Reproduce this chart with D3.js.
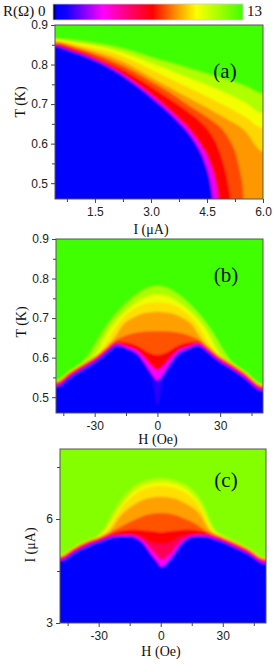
<!DOCTYPE html>
<html>
<head>
<meta charset="utf-8">
<title>R(I,T,H) colour maps</title>
<script src="https://d3js.org/d3.v7.min.js"></script>
<style>
  body { margin: 0; background: #fff; }
  .serif { font-family: "Liberation Serif", "Times New Roman", serif; fill: #111; }
</style>
</head>
<body>
<svg id="chart" width="278" height="664"></svg>
<script>
// colour scale: resistance (ohm) -> colour
var cmapR = [0, 0.25, 0.9, 3.4, 5.0, 6.8, 8.3, 9.8, 11.3, 13];
var cmapColors = ["#000000", "#0000ff", "#1000ff", "#ff00ff", "#ff0080", "#ff0000", "#ff8800", "#ffff00", "#a8ff00", "#40ff00"];

// (a) T vs I. Boundaries between colour bands, [I (uA), T (K)], lowest band first
var aBandR = [0.45, 3.2, 6.8, 7.6, 8.5, 9.3, 10.0, 11.2];
var aTopR = 13;
var aBounds = [
  [[0.43,.847],[0.83,.835],[1.28,.820],[1.74,.800],[2.20,.775],[2.64,.745],[3.04,.715],[3.41,.685],[3.74,.655],[4.02,.625],[4.23,.595],[4.39,.565],[4.50,.535],[4.58,.505],[4.63,.475],[4.65,.46]],
  [[0.43,.849],[0.83,.837],[1.28,.822],[1.76,.802],[2.23,.777],[2.68,.747],[3.09,.717],[3.47,.687],[3.81,.657],[4.10,.627],[4.33,.597],[4.51,.567],[4.63,.537],[4.72,.507],[4.78,.477],[4.80,.46]],
  [[0.43,.853],[1.0,.838],[1.5,.820],[2.0,.798],[2.5,.773],[2.97,.746],[3.5,.713],[4.0,.680],[4.3,.657],[4.53,.634],[4.75,.600],[4.92,.555],[5.04,.51],[5.13,.46]],
  [[0.43,.855],[1.0,.841],[1.5,.826],[2.0,.808],[2.5,.785],[2.97,.759],[3.5,.729],[4.0,.697],[4.5,.667],[4.75,.650],[4.93,.634],[5.1,.61],[5.25,.58],[5.36,.54],[5.44,.50],[5.48,.46]],
  [[0.43,.858],[1.0,.846],[1.5,.833],[2.0,.817],[2.5,.795],[2.97,.769],[3.5,.742],[4.0,.716],[4.5,.691],[5.0,.664],[5.5,.634],[6.0,.58]],
  [[0.43,.860],[1.0,.851],[1.5,.841],[2.0,.830],[2.5,.810],[2.97,.789],[3.5,.765],[4.0,.742],[4.5,.719],[5.0,.695],[5.5,.669],[6.0,.640]],
  [[0.43,.863],[1.0,.856],[1.5,.848],[2.0,.837],[2.5,.822],[2.97,.805],[3.5,.786],[4.0,.767],[4.5,.748],[5.0,.728],[5.5,.705],[6.0,.677]],
  [[0.43,.866],[1.0,.861],[1.5,.855],[2.0,.846],[2.5,.834],[2.97,.820],[3.5,.805],[4.0,.791],[4.5,.777],[5.0,.763],[5.5,.747],[6.0,.727]]
];

// (b) T vs H, [H (Oe), T (K)]
var bBandR = [0.45, 1.2, 3.4, 6.8, 7.7, 8.6, 9.4, 10.1, 11.3];
var bTopR = 13;
var bBounds = [
  [[-48.5,.525],[-41.7,.550],[-35.3,.571],[-29,.592],[-24.2,.613],[-19.4,.630],[-14.6,.622],[-9.8,.609],[-6.7,.588],[-3.5,.556],[-1.5,.525],[0,.48],[1.5,.525],[3.5,.556],[6.7,.588],[9.8,.609],[14.6,.622],[19.4,.630],[24.2,.613],[29,.592],[35.3,.571],[41.7,.548],[50.5,.515]],
  [[-48.5,.527],[-41.7,.552],[-35.3,.573],[-29,.594],[-24.2,.615],[-19.4,.632],[-14.6,.624],[-9.8,.611],[-6.7,.591],[-3.5,.565],[-1.5,.550],[0,.542],[1.5,.550],[3.5,.565],[6.7,.591],[9.8,.611],[14.6,.624],[19.4,.632],[24.2,.615],[29,.594],[35.3,.573],[41.7,.550],[50.5,.517]],
  [[-48.5,.530],[-41.7,.555],[-35.3,.576],[-29,.597],[-24.2,.618],[-19.4,.635],[-14.6,.628],[-9.8,.618],[-6.7,.603],[-3.5,.583],[0,.568],[3.5,.583],[6.7,.603],[9.8,.618],[14.6,.628],[19.4,.635],[24.2,.618],[29,.597],[35.3,.576],[41.7,.553],[50.5,.520]],
  [[-48.5,.536],[-41.7,.561],[-35.3,.582],[-29,.603],[-24.2,.624],[-19.4,.641],[-14.6,.638],[-9.8,.630],[-5,.615],[0,.607],[5,.615],[9.8,.630],[14.6,.638],[19.4,.641],[24.2,.624],[29,.603],[35.3,.582],[41.7,.559],[50.5,.526]],
  [[-48.5,.538],[-41.7,.563],[-35.3,.584],[-29,.605],[-24.2,.626],[-21,.640],[-17,.652],[-12,.661],[-6,.666],[0,.667],[6,.666],[12,.661],[17,.652],[21,.640],[24.2,.626],[29,.605],[35.3,.584],[41.7,.561],[50.5,.528]],
  [[-48.5,.539],[-41.7,.564],[-35.3,.585],[-29,.606],[-24.2,.628],[-20,.655],[-16.2,.685],[-12,.700],[-8.1,.710],[-4,.714],[0,.716],[4,.714],[8.1,.710],[12,.700],[16.2,.685],[20,.655],[24.2,.628],[29,.606],[35.3,.585],[41.7,.562],[50.5,.529]],
  [[-48.5,.540],[-41.7,.565],[-35.3,.586],[-29,.607],[-26,.625],[-22,.660],[-18,.692],[-14,.713],[-9,.730],[-4,.738],[0,.740],[4,.738],[9,.730],[14,.713],[18,.692],[22,.660],[26,.625],[29,.607],[35.3,.586],[41.7,.563],[50.5,.530]],
  [[-48.5,.541],[-41.7,.566],[-35.3,.587],[-31,.600],[-28,.625],[-24,.665],[-19.4,.697],[-14,.725],[-9.8,.742],[-5,.755],[0,.760],[5,.755],[9.8,.742],[14,.725],[19.4,.697],[24,.665],[28,.625],[31,.600],[35.3,.587],[41.7,.564],[50.5,.531]],
  [[-48.5,.542],[-41.7,.567],[-36,.588],[-32,.615],[-27,.660],[-22,.698],[-16,.733],[-10,.760],[-5,.776],[0,.782],[5,.776],[10,.760],[16,.733],[22,.698],[27,.660],[32,.615],[36,.587],[41.7,.565],[50.5,.532]]
];

// (c) I vs H, [H (Oe), I (uA)]
var cBandR = [0.45, 3.4, 5.6, 6.8, 7.7, 8.6, 9.4, 10.1, 11.0];
var cTopR = 11.9;
var cBounds = [
  [[-48.7,4.80],[-41.8,5.04],[-35.4,5.23],[-28.9,5.37],[-25.7,5.45],[-20.9,5.50],[-15,5.51],[-11.3,5.44],[-8.1,5.28],[-4.8,5.00],[-1.6,4.76],[0.3,4.62],[3.2,4.76],[6.4,5.00],[9.6,5.28],[12.8,5.44],[17,5.51],[22,5.50],[24.1,5.47],[28.9,5.37],[35.4,5.20],[41.8,5.02],[50.9,4.72]],
  [[-48.7,4.83],[-41.8,5.07],[-35.4,5.26],[-28.9,5.40],[-25.7,5.48],[-20.9,5.53],[-15,5.54],[-11.3,5.48],[-8.1,5.35],[-4.8,5.12],[-1.6,4.92],[0.3,4.82],[3.2,4.92],[6.4,5.12],[9.6,5.35],[12.8,5.48],[17,5.54],[22,5.53],[24.1,5.50],[28.9,5.40],[35.4,5.23],[41.8,5.05],[50.9,4.75]],
  [[-48.7,4.86],[-41.8,5.10],[-35.4,5.29],[-28.9,5.43],[-25.7,5.51],[-20.9,5.56],[-15,5.57],[-11.3,5.53],[-8.1,5.45],[-4.8,5.34],[0.3,5.28],[4.8,5.34],[8.1,5.45],[12.8,5.53],[17,5.57],[22,5.56],[24.1,5.53],[28.9,5.43],[35.4,5.26],[41.8,5.08],[50.9,4.78]],
  [[-48.7,4.90],[-41.8,5.14],[-35.4,5.33],[-28.9,5.47],[-25.7,5.55],[-20.9,5.64],[-12.9,5.70],[-6,5.66],[0.3,5.62],[6,5.66],[12.9,5.70],[20.9,5.64],[24.1,5.57],[28.9,5.47],[35.4,5.30],[41.8,5.12],[50.9,4.82]],
  [[-48.7,4.92],[-41.8,5.16],[-35.4,5.35],[-28.9,5.49],[-25.7,5.57],[-23,5.66],[-18,5.82],[-12,6.0],[-6,6.13],[0,6.17],[6,6.13],[12,6.0],[18,5.82],[21,5.68],[24.1,5.59],[28.9,5.49],[35.4,5.32],[41.8,5.14],[50.9,4.84]],
  [[-48.7,4.93],[-41.8,5.17],[-35.4,5.36],[-28.9,5.50],[-25,5.64],[-19.3,6.10],[-12,6.45],[-6,6.60],[0,6.64],[6,6.60],[12,6.45],[19.3,6.10],[23,5.72],[28.9,5.50],[35.4,5.33],[41.8,5.15],[50.9,4.85]],
  [[-48.7,4.94],[-41.8,5.18],[-35.4,5.37],[-29.5,5.49],[-26.5,5.64],[-19.3,6.30],[-9.6,6.82],[0,6.95],[9.6,6.82],[19.3,6.30],[24.5,5.68],[29.5,5.49],[35.4,5.34],[41.8,5.16],[50.9,4.86]],
  [[-48.7,4.95],[-41.8,5.19],[-35.4,5.38],[-30,5.50],[-27.5,5.66],[-19.3,6.40],[-9.6,6.96],[0,7.08],[9.6,6.96],[19.3,6.40],[25.5,5.68],[30,5.50],[35.4,5.35],[41.8,5.17],[50.9,4.87]],
  [[-48.7,4.96],[-41.8,5.20],[-35.4,5.39],[-31,5.50],[-28.5,5.66],[-20,6.50],[-10,7.05],[0,7.18],[10,7.05],[20,6.50],[26.5,5.66],[31,5.50],[35.4,5.36],[41.8,5.18],[50.9,4.88]]
];

// tick values
var aXTicks = [1.5, 3.0, 4.5, 6.0], aXMinor = [0.75, 2.25, 3.75, 5.25];
var tTicks = [0.5, 0.6, 0.7, 0.8, 0.9], tMinor = [0.55, 0.65, 0.75, 0.85];
var hTicks = [-30, 0, 30], hMinor = [-45, -15, 15, 45];
var cYTicks = [3, 6], cYMinor = [4.5, 7.5];

var svg = d3.select("#chart");
var defs = svg.append("defs");
var color = d3.scaleLinear().domain(cmapR).range(cmapColors).interpolate(d3.interpolateRgb);

var soft = defs.append("filter").attr("id", "soft")
    .attr("x", "-5%").attr("y", "-5%").attr("width", "110%").attr("height", "110%");
soft.append("feGaussianBlur").attr("stdDeviation", 1.2);

// colour bar
var grad = defs.append("linearGradient").attr("id", "cbar");
cmapR.forEach(function(r, i) {
    grad.append("stop").attr("offset", r / cmapR[cmapR.length - 1]).attr("stop-color", cmapColors[i]);
});
svg.append("rect").attr("x", 53).attr("y", 4).attr("width", 190).attr("height", 16)
    .attr("fill", "url(#cbar)").attr("stroke", "#ccc").attr("stroke-width", 0.8);
svg.append("text").attr("class", "serif").attr("x", 3).attr("y", 16).attr("font-size", 15).text("R(Ω) 0");
svg.append("text").attr("class", "serif").attr("x", 247).attr("y", 16).attr("font-size", 15).text(cmapR[cmapR.length - 1]);

var panels = [
    { name: "a", left: 55, right: 263, top: 25, bottom: 199, xDomain: [0.43, 6.0], yDomain: [0.46, 0.9],
      bounds: aBounds, bandR: aBandR, topR: aTopR,
      xTicks: aXTicks, xMinor: aXMinor, xFmt: d3.format(".1f"),
      yTicks: tTicks, yMinor: tMinor, yFmt: d3.format(".1f"),
      xTitle: "I (μA)", xTitlePos: [151, 234], yTitle: "T (K)", yTitlePos: [25, 102],
      tag: "(a)", tagPos: [225, 78] },
    { name: "b", left: 56, right: 263, top: 239, bottom: 413, xDomain: [-48.5, 50.5], yDomain: [0.46, 0.9],
      bounds: bBounds, bandR: bBandR, topR: bTopR,
      xTicks: hTicks, xMinor: hMinor, xFmt: function(d) { return String(d); },
      yTicks: tTicks, yMinor: tMinor, yFmt: d3.format(".1f"),
      xTitle: "H (Oe)", xTitlePos: [158, 444], yTitle: "T (K)", yTitlePos: [26, 322],
      tag: "(b)", tagPos: [226, 282] },
    { name: "c", left: 60, right: 266, top: 449, bottom: 623, xDomain: [-48.7, 50.9], yDomain: [3, 8.02],
      bounds: cBounds, bandR: cBandR, topR: cTopR,
      xTicks: hTicks, xMinor: hMinor, xFmt: function(d) { return String(d); },
      yTicks: cYTicks, yMinor: cYMinor, yFmt: function(d) { return String(d); },
      xTitle: "H (Oe)", xTitlePos: [161, 656], yTitle: "I (μA)", yTitlePos: [35, 545],
      tag: "(c)", tagPos: [226, 487] }
];

panels.forEach(drawPanel);

function drawPanel(p) {
    var x = d3.scaleLinear().domain(p.xDomain).range([p.left, p.right]);
    var y = d3.scaleLinear().domain(p.yDomain).range([p.bottom, p.top]);
    var w = p.right - p.left, h = p.bottom - p.top;

    defs.append("clipPath").attr("id", "clip-" + p.name)
        .append("rect").attr("x", p.left).attr("y", p.top).attr("width", w).attr("height", h);

    var map = svg.append("g").attr("clip-path", "url(#clip-" + p.name + ")")
        .append("g").attr("filter", "url(#soft)");

    map.append("rect").attr("x", p.left - 12).attr("y", p.top - 12)
        .attr("width", w + 24).attr("height", h + 24).attr("fill", color(p.topR));

    var area = d3.area().curve(d3.curveMonotoneX)
        .x(function(d) { return x(d[0]); })
        .y0(p.bottom + 12)
        .y1(function(d) { return y(d[1]); });

    // fill under each boundary, highest band first
    var pad = (p.xDomain[1] - p.xDomain[0]) * 0.06;
    for (var k = p.bounds.length - 1; k >= 0; k--) {
        var pts = p.bounds[k];
        var last = pts[pts.length - 1];
        var ext = [[p.xDomain[0] - pad, pts[0][1]]].concat(pts);
        if (last[1] > p.yDomain[0] + 1e-6) ext.push([p.xDomain[1] + pad, last[1]]);
        map.append("path").attr("d", area(ext)).attr("fill", color(p.bandR[k]));
    }

    svg.append("rect").attr("x", p.left).attr("y", p.top).attr("width", w).attr("height", h)
        .attr("fill", "none").attr("stroke", "#555").attr("stroke-width", 1);

    function finish(g) {
        g.attr("font-family", "'Liberation Sans', Arial, sans-serif").attr("font-size", 12);
        g.select(".domain").remove();
        g.selectAll("line").attr("stroke", "#444");
        g.selectAll("text").attr("fill", "#222");
    }
    svg.append("g").attr("transform", "translate(0," + p.bottom + ")")
        .call(d3.axisBottom(x).tickValues(p.xTicks).tickSize(4).tickPadding(4).tickFormat(p.xFmt)).call(finish);
    svg.append("g").attr("transform", "translate(0," + p.bottom + ")")
        .call(d3.axisBottom(x).tickValues(p.xMinor).tickSize(3).tickFormat("")).call(finish);
    svg.append("g").attr("transform", "translate(" + p.left + ",0)")
        .call(d3.axisLeft(y).tickValues(p.yTicks).tickSize(4).tickPadding(3).tickFormat(p.yFmt)).call(finish);
    svg.append("g").attr("transform", "translate(" + p.left + ",0)")
        .call(d3.axisLeft(y).tickValues(p.yMinor).tickSize(3).tickFormat("")).call(finish);

    svg.append("text").attr("class", "serif").attr("font-size", 14).attr("text-anchor", "middle")
        .attr("x", p.xTitlePos[0]).attr("y", p.xTitlePos[1]).text(p.xTitle);
    svg.append("text").attr("class", "serif").attr("font-size", 14).attr("text-anchor", "middle")
        .attr("transform", "translate(" + p.yTitlePos[0] + "," + p.yTitlePos[1] + ") rotate(-90)")
        .text(p.yTitle);
    svg.append("text").attr("class", "serif").attr("font-size", 21).attr("text-anchor", "middle")
        .attr("x", p.tagPos[0]).attr("y", p.tagPos[1]).text(p.tag);
}
</script>
</body>
</html>
